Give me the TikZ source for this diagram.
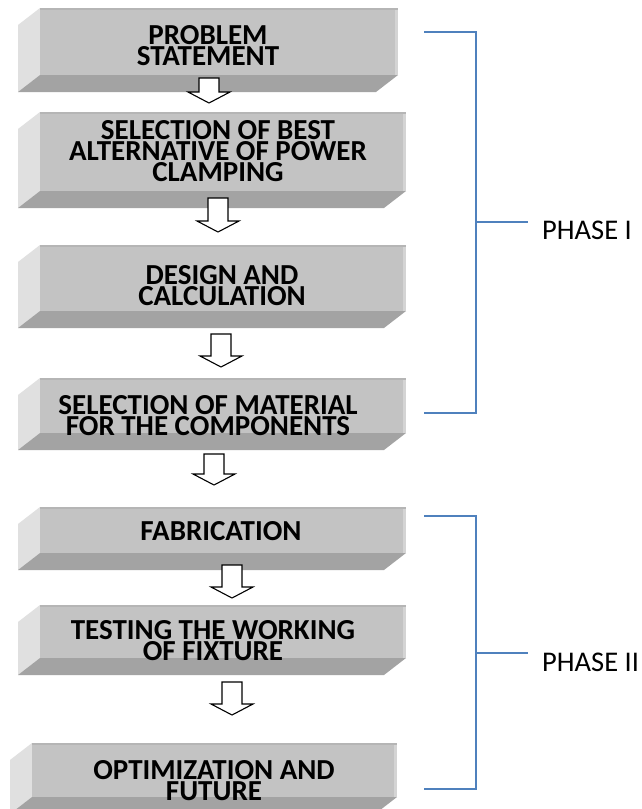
\documentclass[tikz,border=0pt]{standalone}
\usepackage{fontspec}
\setmainfont{Carlito}
\usetikzlibrary{calc}
\definecolor{frontc}{HTML}{C3C3C3}
\definecolor{leftc}{HTML}{E0E0E0}
\definecolor{botc}{HTML}{A3A3A3}
\definecolor{hilite}{HTML}{D4D4D4}
\definecolor{edgec}{HTML}{B5B5B5}
\definecolor{phaseblue}{HTML}{4F81BD}
\tikzset{
  frontface/.style={fill=frontc, inner sep=0pt, outer sep=0pt, draw=none},
  boxtext/.style={font=\fontsize{29}{21}\selectfont\bfseries, inner sep=0pt,
     text height=19pt, text depth=1pt, anchor=base},
  blockarr/.style={draw=black, fill=white, line width=1.1pt, line join=miter},
  bracket/.style={draw=phaseblue, line width=1.4pt},
  phasetext/.style={font=\fontsize{28.5}{28.5}\selectfont, anchor=west, inner sep=0pt}
}
% name, left, right, top, bottom
\newcommand{\bevelbox}[5]{%
  \fill[leftc] (#2,#4) -- (#2-22,#4+17) -- (#2-22,#5+17) -- (#2,#5) -- cycle;
  \fill[botc] (#2,#5) -- (#3,#5) -- (#3-22,#5+17) -- (#2-22,#5+17) -- cycle;
  \node[frontface, minimum width={#3pt-#2pt}, minimum height={#5pt-#4pt}] (#1) at ({(#2+#3)/2},{(#4+#5)/2}) {};
  \fill[edgec] (#2,#4) rectangle (#3,#4+2);
  \fill[hilite] (#3-3,#4+2) rectangle (#3,#5);
}
% name, cx, ytop, ytip
\newcommand{\blockarrow}[4]{%
  \coordinate (#1) at (#2,#3);
  \draw[blockarr] (#1) ++(-10,0) -- ++(20,0) -- ++(0,{#4-#3-11}) -- ++(11,0)
     -- ++(-21,11) -- ++(-21,-11) -- ++(11,0) -- cycle;
}
\begin{document}
\begin{tikzpicture}[x=1pt,y=-1pt]
\fill[white] (0,0) rectangle (641,809);
\useasboundingbox (0,0) rectangle (641,809);

\bevelbox{b1}{40}{398}{8}{75}
\bevelbox{b2}{40}{406}{112}{191}
\bevelbox{b3}{40}{406}{245}{311}
\bevelbox{b4}{40}{406}{378}{433}
\bevelbox{b5}{40}{406}{507}{553}
\bevelbox{b6}{40}{406}{605}{658}
\bevelbox{b7}{32}{397}{743}{797}

\node[boxtext] (t1a) at (208,44) {PROBLEM};
\node[boxtext] (t1b) at (208,65) {STATEMENT};
\node[boxtext] (t2a) at (218,139) {SELECTION OF BEST};
\node[boxtext] (t2b) at (218,160) {ALTERNATIVE OF POWER};
\node[boxtext] (t2c) at (218,181) {CLAMPING};
\node[boxtext] (t3a) at (222,284) {DESIGN AND};
\node[boxtext] (t3b) at (222,305) {CALCULATION};
\node[boxtext] (t4a) at (208,414) {SELECTION OF MATERIAL};
\node[boxtext] (t4b) at (208,435) {FOR THE COMPONENTS};
\node[boxtext] (t5) at (221,540) {FABRICATION};
\node[boxtext] (t6a) at (213,639) {TESTING THE WORKING};
\node[boxtext] (t6b) at (213,660) {OF FIXTURE};
\node[boxtext] (t7a) at (214,779) {OPTIMIZATION AND};
\node[boxtext] (t7b) at (214,800) {FUTURE};

\blockarrow{a1}{209}{78}{103}
\blockarrow{a2}{218}{198}{232}
\blockarrow{a3}{221}{334}{367}
\blockarrow{a4}{214}{454}{485}
\blockarrow{a5}{232}{565}{598}
\blockarrow{a6}{232}{682}{715}

% Phase I bracket
\coordinate (p1a) at (424,32);
\coordinate (p1b) at (424,413);
\coordinate (p1m) at (476,222);
\coordinate (p1t) at (528,222);
\draw[bracket] (p1a) -- (476,32) -- (476,413) -- (p1b);
\draw[bracket] (p1m) -- (p1t);
\node[phasetext] (ph1) at (542,230) {PHASE I};

% Phase II bracket
\coordinate (p2a) at (424,516);
\coordinate (p2b) at (424,789);
\coordinate (p2m) at (476,653);
\coordinate (p2t) at (528,653);
\draw[bracket] (p2a) -- (476,516) -- (476,789) -- (p2b);
\draw[bracket] (p2m) -- (p2t);
\node[phasetext] (ph2) at (542,662) {PHASE II};
\end{tikzpicture}
\end{document}
